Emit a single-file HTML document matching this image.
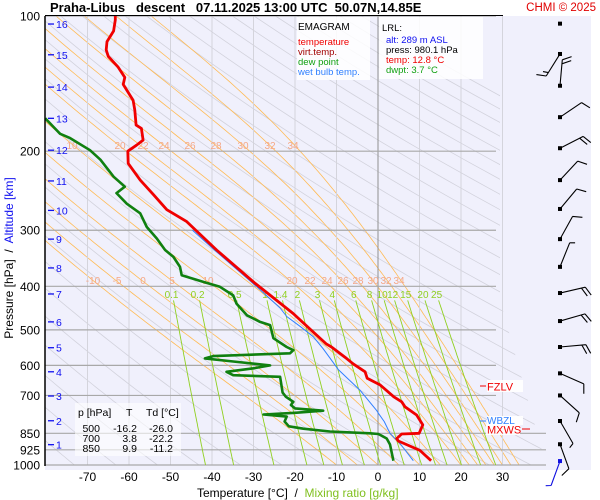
<!DOCTYPE html>
<html><head><meta charset="utf-8"><style>
body{margin:0;background:#fff;}
svg{display:block;font-family:"Liberation Sans",sans-serif;}
</style></head><body>
<svg id="chart" width="600" height="500" viewBox="0 0 600 500">
<rect x="45" y="16" width="546" height="454" fill="#f0f0fc"/>
<defs><clipPath id="clipPlot"><polygon points="45,16 500,16 500,300 546,465 45,465"/></clipPath>
<clipPath id="clipMain"><rect x="45" y="16" width="500" height="449"/></clipPath></defs>
<g id="bgLines" clip-path="url(#clipPlot)"></g>
<g id="grid"></g>
<g id="mix"></g>
<g id="series" clip-path="url(#clipMain)"></g>
<g id="axes"></g>
<g id="barbs"></g>

<text x="50" y="12" font-size="13" font-weight="bold" fill="#000" xml:space="preserve">Praha-Libus   descent   07.11.2025 13:00 UTC  50.07N,14.85E</text>
<text x="596" y="11" font-size="11.5" fill="#e00000" text-anchor="end">CHMI © 2025</text>
<line x1="45" y1="15.5" x2="503" y2="15.5" stroke="#000" stroke-width="1"/>

<g>
<rect x="297" y="17" width="73" height="63" fill="#fff" opacity="0.85"/>
<text x="298" y="30" font-size="10" fill="#000">EMAGRAM</text>
<text x="298" y="45" font-size="9.5" fill="#f00000">temperature</text>
<text x="298" y="55" font-size="9.5" fill="#a00000">virt.temp.</text>
<text x="298" y="65" font-size="9.5" fill="#10a010">dew point</text>
<text x="298" y="75" font-size="9.5" fill="#3080ff">wet bulb temp.</text>
</g>
<g>
<rect x="379" y="17" width="104" height="62" fill="#fff" opacity="0.85"/>
<text x="382" y="31" font-size="9.5" fill="#000">LRL:</text>
<text x="386" y="43" font-size="9.5" fill="#1010f0">alt: 289 m ASL</text>
<text x="386" y="53" font-size="9.5" fill="#000">press: 980.1 hPa</text>
<text x="386" y="63" font-size="9.5" fill="#f00000">temp: 12.8 °C</text>
<text x="386" y="73" font-size="9.5" fill="#10a010">dwpt: 3.7 °C</text>
</g>
<g font-size="10.5" fill="#000">
<rect x="75" y="403" width="106" height="53" fill="#fff" opacity="0.6"/>
<text x="78" y="416">p [hPa]</text><text x="126" y="416">T</text><text x="146" y="416">Td [°C]</text>
<text x="100" y="432" text-anchor="end">500</text><text x="137" y="432" text-anchor="end">-16.2</text><text x="173" y="432" text-anchor="end">-26.0</text>
<text x="100" y="442" text-anchor="end">700</text><text x="137" y="442" text-anchor="end">3.8</text><text x="173" y="442" text-anchor="end">-22.2</text>
<text x="100" y="452" text-anchor="end">850</text><text x="137" y="452" text-anchor="end">9.9</text><text x="173" y="452" text-anchor="end">-11.2</text>
</g>
<g>
<rect x="487" y="380" width="36" height="12" fill="#fff" opacity="0.9"/>
<line x1="480" y1="386" x2="486" y2="386" stroke="#f00000"/>
<text x="487" y="390.5" font-size="11" fill="#f00000">FZLV</text>
<rect x="487" y="416" width="36" height="9" fill="#fff" opacity="0.9"/>
<line x1="480" y1="421" x2="486" y2="421" stroke="#3080ff"/>
<text x="487" y="424" font-size="10" fill="#3080ff">WBZL</text>
<rect x="486" y="424" width="34" height="11" fill="#fff" opacity="0.9"/>
<text x="487" y="433.5" font-size="11" fill="#f00000">MXWS</text>
<line x1="522" y1="429" x2="530" y2="429" stroke="#f00000"/>
</g>
<g transform="translate(13,258) rotate(-90)" font-size="12">
<text x="0" y="0" text-anchor="middle"><tspan fill="#000">Pressure [hPa]</tspan><tspan fill="#000" xml:space="preserve">  /  </tspan><tspan fill="#1010f0">Altitude [km]</tspan></text>
</g>
<text x="197" y="497" font-size="12" xml:space="preserve"><tspan fill="#000">Temperature [°C]  /  </tspan><tspan fill="#80c020">Mixing ratio [g/kg]</tspan></text>

<script>
const pressureTicks=[100,200,300,400,500,600,700,850,925,1000];
const tempTicks=[-70,-60,-50,-40,-30,-20,-10,0,10,20,30];
const altKm=[1,2,3,4,5,6,7,8,9,10,11,12,13,14,15,16];
const altP=[901,797,702,620,548,480,416,364,314,271,233,199,169,144,122,104.2];
const mixRatios=[0.1,0.2,0.5,1,1.4,2,3,4,6,8,10,12,15,20,25];
const mixLabels=["0.1","0.2","0.5","1","1.4","2","3","4","6","8","10","12","15","20","25"];
const thetaW=[-10,-5,0,5,10,15,20,22,24,26,28,30,32,34];
const tempP=[978,928,884,873,853,850,814,774,742,723,705,663,641,620,595,579,546,538,500,460,436,394,332,287,270,250,232,213,200,194,189,178,175,162,154,142,137,130,123,119,114,108,102,100];
const tempT=[12.8,10.1,4.9,4.5,5.7,9.9,10.8,9.3,6.5,5.7,3.8,0.5,-2.6,-3.1,-6.0,-7.6,-11.2,-12.4,-16.2,-20.4,-23.6,-29.6,-38.9,-46.1,-50.9,-54.1,-57.3,-60.2,-60.3,-58.2,-56.6,-57,-58.3,-58.6,-59,-61.4,-61,-62.6,-65,-65.5,-65.3,-63.7,-63.3,-63.3];
const dewP=[978,900,873,853,850,842,830,820,800,780,772,765,757,748,735,723,705,690,636,631,620,609,600,588,579,572,564,555,546,522,488,480,464,437,419,401,391,378,362,344,332,313,295,275,262,248,240,228,209,199,187,183,169];
const dewT=[3.7,2.9,2.1,0.1,-1.9,-11.6,-18,-21.5,-22.5,-22,-27.6,-20,-13.2,-20,-21,-20.4,-22.2,-23,-23.6,-34.9,-36.5,-30,-26,-34.9,-41.7,-39.7,-21.2,-20.4,-22,-25.2,-26,-28.4,-31.6,-34.1,-34.9,-38.1,-42.1,-47.3,-47.7,-49.3,-51.3,-53.3,-55.7,-57.3,-60.5,-63,-61,-63.7,-66.9,-69.4,-74.2,-76.6,-80.2];
const wbP=[978,900,850,800,767,757,682,614,564,551,518,491,467,447,401,332,300];
const wbT=[8.5,5.5,2.9,1.5,0.1,-0.3,-4.3,-9.5,-12.4,-13.2,-15.6,-18.8,-22,-23.6,-29.2,-39.4,-44.7];
const windP=[104,121.5,143,168,197,232,269,314,362,414,478,546,625,700,798,899,980];
const windDir=[0,212,5,56,63,43,40,29,22,77,74,85,114,132,150,160,200];
const windSpd=[0,15,20,10,20,10,10,10,5,20,20,20,10,10,5,10,5];

const NS='http://www.w3.org/2000/svg';
const X0=378, KX=4.15, Y0=16, KY=195;
function xT(t){return X0+KX*t;}
function yP(p){return Y0+KY*Math.log(p/100);}
function mk(tag,parent){const e=document.createElementNS(NS,tag);parent.appendChild(e);return e;}
function poly(parent,pts,stroke,w){const e=mk('polyline',parent);e.setAttribute('points',pts.map(q=>q[0].toFixed(1)+','+q[1].toFixed(1)).join(' '));e.setAttribute('fill','none');e.setAttribute('stroke',stroke);e.setAttribute('stroke-width',w);e.setAttribute('stroke-linejoin','round');return e;}

const bg=document.getElementById('bgLines');
for(let th=200;th<=520;th+=10){const pts=[];for(let p=100;p<=1000;p+=10){pts.push([xT(th*Math.pow(p/1000,0.286)-273.15),yP(p)]);}
 const e=poly(bg,pts,'#d2d2dc',0.8);
 
 }
function es(t){return 6.112*Math.exp(17.67*t/(t+243.5));}
function moist(tw){const pts=[];let T=tw+273.15,p=1000;pts.push([xT(tw),yP(p)]);
 while(p>100){const dp=-5;const tc=T-273.15;const e=es(tc);const rs=0.622*e/(p-e);
  const dTdp=(287*T+2.5e6*rs)/(p*(1004+2.5e6*2.5e6*rs*0.622/(287*T*T)));T+=dTdp*dp;p+=dp;pts.push([xT(T-273.15),yP(p)]);}
 return pts;}
thetaW.forEach(tw=>{const e=poly(bg,moist(tw),'#ffbb55',0.8);
 
 });

const grid=document.getElementById('grid');
tempTicks.forEach(t=>{const l=mk('line',grid);l.setAttribute('x1',xT(t));l.setAttribute('x2',xT(t));l.setAttribute('y1',16);l.setAttribute('y2',465);l.setAttribute('stroke',t===0?'#909090':'#d4d4dc');l.setAttribute('stroke-width',1);
 
 });
pressureTicks.forEach(p=>{const l=mk('line',grid);l.setAttribute('x1',45);l.setAttribute('x2',p>=850?546:496);l.setAttribute('y1',yP(p));l.setAttribute('y2',yP(p));l.setAttribute('stroke','#a8a8a8');l.setAttribute('stroke-width',1.2);
 
 });

const mix=document.getElementById('mix');
function tdFrom(w,p){const e=w*p/(622+w);const a=Math.log(e/6.112);return 243.5*a/(17.67-a);}
mixRatios.forEach((w,i)=>{const pts=[];for(let p=430;p<=1000;p+=10)pts.push([xT(tdFrom(w,p)),yP(p)]);
 const e=poly(mix,pts,'#90d020',0.9);
 
 
 const t=mk('text',mix);t.textContent=mixLabels[i];t.setAttribute('x',xT(tdFrom(w,430))-2);t.setAttribute('y',298);t.setAttribute('font-size','10');t.setAttribute('fill','#90d020');t.setAttribute('text-anchor','middle');
 
 });
const upLab=[["10",72],["20",120],["22",143],["24",164],["26",190],["28",216],["30",243],["32",270],["34",293]];
const loLab=[["-10",93],["-5",117],["0",143],["5",172],["10",208],["20",292],["22",310],["24",327],["26",343],["28",358],["30",373],["32",386],["34",399]];
function lab(arr,y){arr.forEach(a=>{const t=mk('text',mix);t.textContent=a[0];t.setAttribute('x',a[1]);t.setAttribute('y',y);t.setAttribute('font-size','10');t.setAttribute('fill','#f4a888');t.setAttribute('text-anchor','middle');
 
 });}
lab(upLab,149);lab(loLab,284);

const ser=document.getElementById('series');
function line(P,T,c,w){return poly(ser,P.map((p,i)=>[xT(T[i]),yP(p)]),c,w);}
const wbL=line(wbP,wbT,'#2f7fff',1);


const dL=line(dewP,dewT,'#108010',2.6);


const tL=line(tempP,tempT,'#f00000',2.8);



const ax=document.getElementById('axes');
const al=mk('line',ax);al.setAttribute('x1',45);al.setAttribute('x2',45);al.setAttribute('y1',16);al.setAttribute('y2',466);al.setAttribute('stroke','#000');al.setAttribute('stroke-width',1.5);


pressureTicks.forEach(p=>{const t=mk('text',ax);t.textContent=p;t.setAttribute('x',40);t.setAttribute('y',yP(p)+4.5);t.setAttribute('font-size','12');t.setAttribute('text-anchor','end');t.setAttribute('fill','#000');
 
 });
tempTicks.forEach(v=>{const t=mk('text',ax);t.textContent=v;t.setAttribute('x',xT(v));t.setAttribute('y',481);t.setAttribute('font-size','12');t.setAttribute('text-anchor','middle');t.setAttribute('fill','#000');
 
 });
altKm.forEach((k,i)=>{const y=yP(altP[i]);const l=mk('line',ax);l.setAttribute('x1',48);l.setAttribute('x2',54);l.setAttribute('y1',y);l.setAttribute('y2',y);l.setAttribute('stroke','#1010f0');l.setAttribute('stroke-width',1.3);
 
 
 const t=mk('text',ax);t.textContent=k;t.setAttribute('x',56);t.setAttribute('y',y+4);t.setAttribute('font-size','10.5');t.setAttribute('fill','#1010f0');
 
 });

const bb=document.getElementById('barbs');
windP.forEach((p,i)=>{const x=560,y=yP(p);const col=i===windP.length-1?'#1010e0':'#000';
 const d=mk('rect',bb);d.setAttribute('x',x-2);d.setAttribute('y',y-2);d.setAttribute('width',4);d.setAttribute('height',4);d.setAttribute('fill',col);
 
 
 if(windSpd[i]<=0)return;
 const a=windDir[i]*Math.PI/180,ux=Math.sin(a),uy=-Math.cos(a),L=26;
 const tx=x+ux*L,ty=y+uy*L;const px=-uy,py=ux;
 let s='M'+x+' '+y+'L'+tx.toFixed(1)+' '+ty.toFixed(1);
 let sp=windSpd[i],pos=0;
 while(sp>=10){const bx=tx-ux*pos,by=ty-uy*pos;s+='M'+bx.toFixed(1)+' '+by.toFixed(1)+'l'+(px*9+ux*4).toFixed(1)+' '+(py*9+uy*4).toFixed(1);sp-=10;pos+=4;}
 if(sp>=5){const bx=tx-ux*pos,by=ty-uy*pos;s+='M'+bx.toFixed(1)+' '+by.toFixed(1)+'l'+(px*5+ux*2).toFixed(1)+' '+(py*5+uy*2).toFixed(1);}
 const e=mk('path',bb);e.setAttribute('d',s);e.setAttribute('stroke',col);e.setAttribute('fill','none');e.setAttribute('stroke-width',1.1);
 
 });
</script>
</svg>
</body></html>
